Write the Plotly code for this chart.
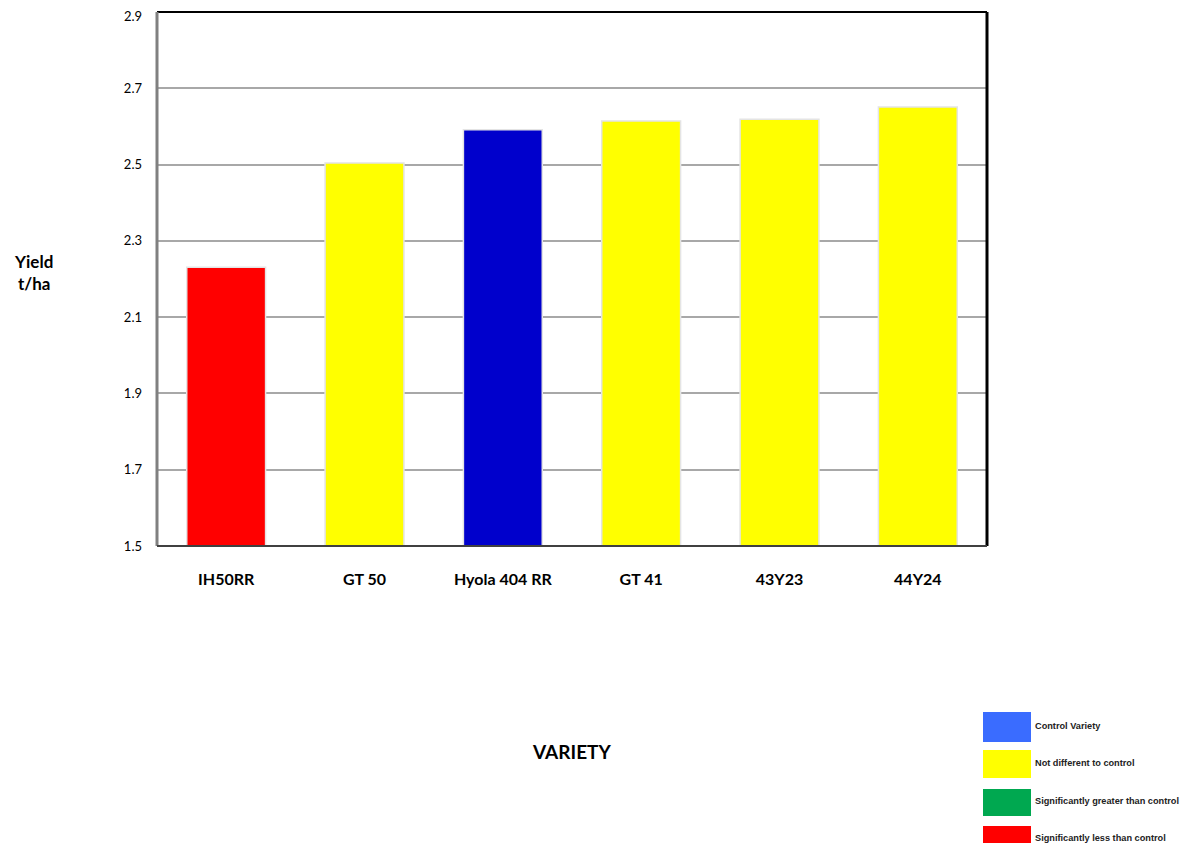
import plotly.graph_objects as go

varieties = ["IH50RR", "GT 50", "Hyola 404 RR", "GT 41", "43Y23", "44Y24"]
yields = [2.231, 2.504, 2.591, 2.614, 2.619, 2.651]
bar_colors = ["#ff0000", "#ffff00", "#0000cc", "#ffff00", "#ffff00", "#ffff00"]
y_ticks = [1.5, 1.7, 1.9, 2.1, 2.3, 2.5, 2.7, 2.9]
legend_labels = ["Control Variety", "Not different to control",
                 "Significantly greater than control", "Significantly less than control"]
legend_colors = ["#3a6cff", "#ffff00", "#00a850", "#ff0000"]

# page offset compensation (body margin)
DX, DY = 8, 8
W, H = 1192 - 2 * DX, 851 - 2 * DY
# target plot area in screenshot pixels
L, R, T, B = 157, 987, 12, 546
l, r, t, b = L - DX, W - (R - DX), max(T - DY, 0), H - (B - DY)

tick_text = [f"{v:.1f}" for v in y_ticks]
# top label is drawn as an annotation so it is not clipped at the page edge
axis_tick_text = tick_text[:-1] + [""]

fig = go.Figure()
fig.add_trace(go.Bar(
    x=varieties, y=yields,
    marker=dict(color=bar_colors, line=dict(color="#e4e4e4", width=1.5)),
    width=0.57, showlegend=False, hoverinfo="x+y"
))

fig.update_layout(
    width=W, height=H,
    margin=dict(l=l, r=r, t=t, b=b, pad=0, autoexpand=False),
    paper_bgcolor="white", plot_bgcolor="white",
    font=dict(family="Lato, Liberation Sans, Arial", color="black"),
    xaxis=dict(showgrid=False, showline=False, ticks="", automargin=False,
               tickfont=dict(family="Lato", size=16, color="black", weight="bold"),
               ticklabelstandoff=22),
    yaxis=dict(range=[1.5, 2.9], tickvals=y_ticks, ticktext=axis_tick_text,
               showgrid=True, gridcolor="#a8a8a8", gridwidth=2, zeroline=False,
               showline=False, ticks="", tickfont=dict(family="Lato", size=13, color="black"),
               ticklabelstandoff=14, automargin=False),
    bargap=0.43,
)

fig.add_annotation(text=tick_text[-1], xref="paper", yref="y", x=0, y=y_ticks[-1],
                   xanchor="right", yanchor="middle", xshift=-14, yshift=-4,
                   showarrow=False, borderpad=0,
                   font=dict(family="Lato", size=13, color="black"))

# frame
fig.add_shape(type="line", xref="paper", yref="paper", x0=0, x1=1, y0=1, y1=1,
              line=dict(color="black", width=2))
fig.add_shape(type="line", xref="paper", yref="paper", x0=1, x1=1, y0=0, y1=1,
              line=dict(color="black", width=3))
fig.add_shape(type="line", xref="paper", yref="paper", x0=0, x1=0, y0=0, y1=1,
              line=dict(color="#808080", width=3))
fig.add_shape(type="line", xref="paper", yref="paper", x0=0, x1=1, y0=0, y1=0,
              line=dict(color="#404040", width=2))

def px_x(p):
    return (p - L) / (R - L)

def px_y(p):
    return (B - p) / (B - T)

# axis titles
fig.add_annotation(text="<b>Yield<br>t/ha</b>", xref="paper", yref="paper",
                   x=px_x(33), y=px_y(272), showarrow=False, xanchor="center", yanchor="middle",
                   font=dict(family="Lato", size=17, color="black"), align="center")
fig.add_annotation(text="<b>VARIETY</b>", xref="paper", yref="paper",
                   x=px_x(571), y=px_y(751), showarrow=False, xanchor="center", yanchor="middle",
                   font=dict(family="Lato", size=19, color="black"))

# custom legend
box_tops = [712, 750, 789, 826]
box_bots = [742, 778, 816, 851]
for lab, col, tp, bt in zip(legend_labels, legend_colors, box_tops, box_bots):
    fig.add_shape(type="rect", xref="paper", yref="paper",
                  x0=px_x(983), x1=px_x(1031), y0=px_y(bt), y1=px_y(tp),
                  fillcolor=col, line=dict(width=0))
    fig.add_annotation(text=f"<b>{lab}</b>", xref="paper", yref="paper",
                       x=px_x(1033), y=px_y((tp + bt) / 2 - 1), showarrow=False,
                       xanchor="left", yanchor="middle",
                       font=dict(family="Liberation Sans", size=9.2, color="#222222"))

fig.write_html("out.html")
